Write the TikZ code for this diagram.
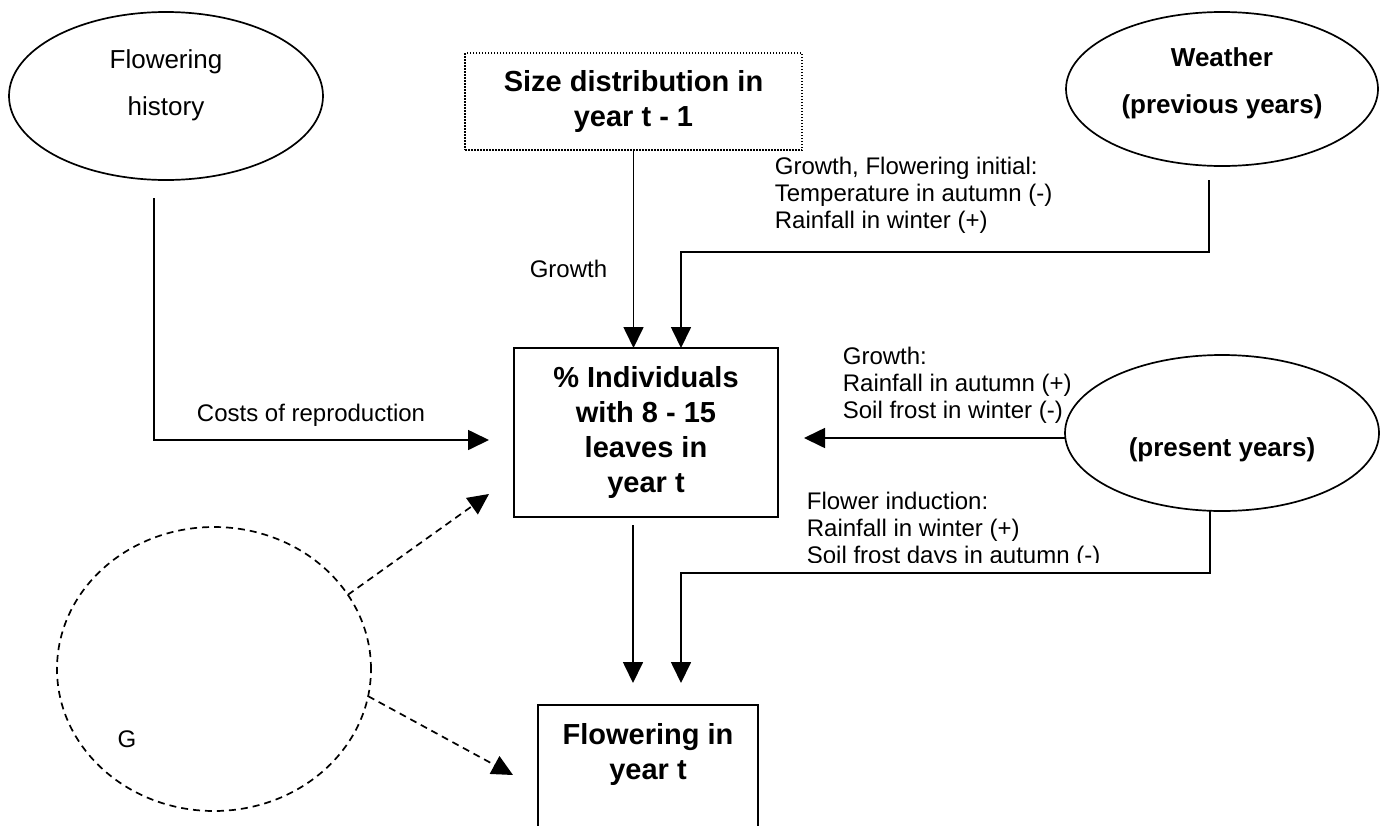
\documentclass[tikz,border=0pt]{standalone}
\usepackage{fontspec}
\setmainfont{Liberation Sans}
\usetikzlibrary{arrows.meta,shapes.geometric,positioning}

\tikzset{
  arr/.style={-{Triangle[length=21pt,width=20pt]}},
  box/.style={draw, rectangle, inner sep=0pt, outer sep=0pt, align=center, font=\fontsize{29}{35}\selectfont\bfseries},
  oval/.style={draw, ellipse, inner sep=0pt, outer sep=0pt},
  ovaltxt/.style={inner sep=0pt, align=center, font=\fontsize{26}{47}\selectfont},
  lbl/.style={inner sep=0pt, align=left, font=\fontsize{24}{27}\selectfont},
  dashline/.style={dash pattern=on 7pt off 5pt}
}

\begin{document}
\begin{tikzpicture}[x=1pt,y=-1pt,line width=1.7pt]
    \useasboundingbox (0,0) rectangle (1388,825);
    \clip (0,0) rectangle (1388,825);

    % boxes
    \node (size) [box, line width=1.2pt, dash pattern=on 1.5pt off 1.5pt, minimum width=337pt, minimum height=97pt] at (633.5,101.5) {Size distribution in\\year t - 1};
    \node (mid) [box, minimum width=264pt, minimum height=169pt] at (646,432.5) {\% Individuals\\with 8 - 15\\leaves in\\year t};
    \node (flower) [box, anchor=north, minimum width=220pt, minimum height=160pt] at (648,705) {};
    \node (flowertxt) [box, draw=none, below=18pt of flower.north] {Flowering in\\year t};

    % ellipses
    \node (hist) [oval, minimum width=314pt, minimum height=168pt] at (166,96) {};
    \node (histtxt) [ovaltxt] at (166,85) {Flowering\\history};
    \node (weather) [oval, minimum width=312pt, minimum height=154pt] at (1222,89) {};
    \node (weathertxt) [ovaltxt, font=\fontsize{26}{47}\selectfont\bfseries] at (1222,83) {Weather\\(previous years)};
    \node (present) [oval, minimum width=314pt, minimum height=156pt] at (1222,433) {};
    \node (presenttxt) [ovaltxt, font=\fontsize{26}{47}\selectfont\bfseries] at (1222,450) {(present years)};
    \node (gen) [oval, dashline, minimum width=314pt, minimum height=284pt] at (214,669) {};
    \node (gentxt) [lbl] at (127,739) {G};

    % connectors
    \draw[arr] ([xshift=-12pt,yshift=-18pt]hist.south) |- ([xshift=-25pt,yshift=-7.5pt]mid.west);
    \draw[arr] (size.south) -- (size.south |- mid.north);
    \draw[arr] ([xshift=-13pt,yshift=-14pt]weather.south) -- ++(0,72) -| ([xshift=35pt]mid.north);
    \coordinate (presout) at ([yshift=-5pt]present.west);
    \coordinate (midin) at ([xshift=26pt]mid.east);
    \draw[arr] (presout) -- (presout -| midin);
    \draw[arr] ([xshift=-12pt]present.south) -- ++(0,62) -| ([xshift=33pt,yshift=22pt]flower.north);
    \draw[arr] ([xshift=-13pt,yshift=-8pt]mid.south) -- ([xshift=-15pt,yshift=22pt]flower.north);
    \draw[arr, dashline] (gen.29) -- ([xshift=-25pt,yshift=23pt]mid.south west);
    \draw[arr, dashline] (gen.-10) -- ([xshift=-25pt,yshift=-70pt]flower.north west);

    % labels
    \node (lgrowth) [lbl, anchor=east] at (608,269) {Growth};
    \node (lcosts) [lbl] at (311,415) {Costs of reproduction};
    \node (lprev) [lbl, anchor=west] at (774,195) {Growth, Flowering initial:\\Temperature in autumn (-)\\Rainfall in winter (+)};
    \node (lpres) [lbl, anchor=west] at (842,385) {Growth:\\Rainfall in autumn (+)\\Soil frost in winter (-)};
    \begin{scope}
        \clip (790,480) rectangle (1150,562);
        \node (lind) [lbl, anchor=west] at (806,530) {Flower induction:\\Rainfall in winter (+)\\Soil frost days in autumn (-)};
    \end{scope}
\end{tikzpicture}
\end{document}
